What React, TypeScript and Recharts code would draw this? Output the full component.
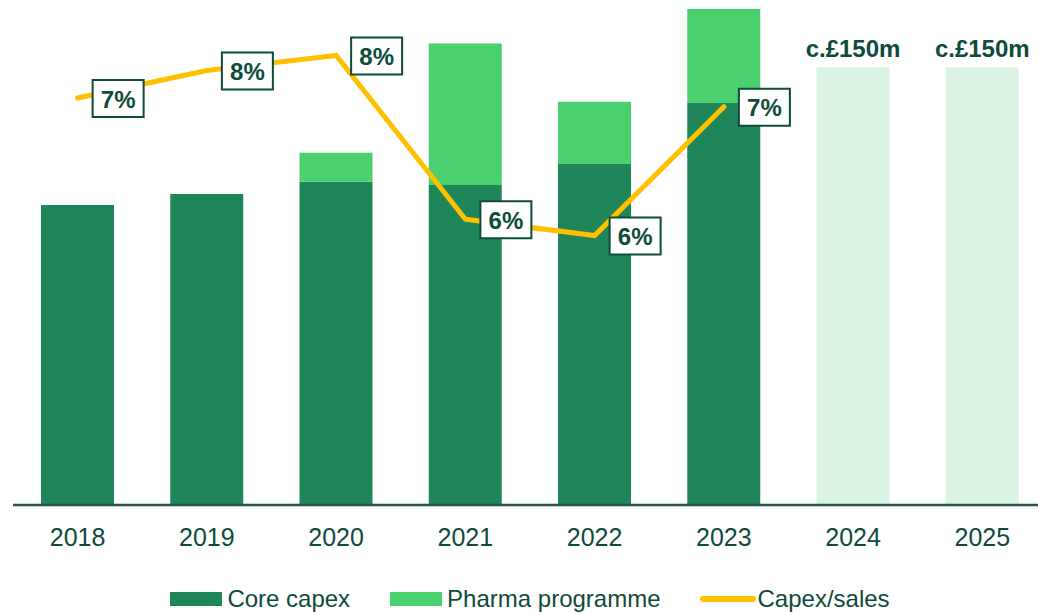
import { ComposedChart, Bar, Line, XAxis, YAxis, Legend, LabelList } from 'recharts'

const years = ['2018', '2019', '2020', '2021', '2022', '2023', '2024', '2025']
const coreCapex = [102.8, 106.6, 110.8, 109.7, 116.9, 137.8, null, null]
const pharmaProgramme = [null, null, 9.9, 48.5, 21.3, 32.2, null, null]
const forecast = [null, null, null, null, null, null, 150, 150]
const capexSales = [7.45, 7.67, 7.79, 6.48, 6.35, 7.38, null, null]

const TEXT = '#0e4b3b'
const CORE = '#1e8659'
const PHARMA = '#4bd06f'
const FORECAST = '#dbf3e2'
const LINE = '#ffc000'

const chartData = years.map((year, i) => ({
  year,
  core: coreCapex[i],
  pharma: pharmaProgramme[i],
  forecast: forecast[i],
  ratio: capexSales[i]
}))

// boxed percentage label to the right of each line point
const RatioLabel = (props: any) => {
  const { x, y, value } = props
  if (value == null) return null
  const bx = x + 15
  const by = y - 18
  return (
    <g>
      <rect x={bx} y={by} width={51} height={37} fill="#fff" stroke={TEXT} strokeWidth={2} />
      <text
        x={bx + 25.5}
        y={by + 19}
        textAnchor="middle"
        dominantBaseline="central"
        fill={TEXT}
        fontSize={24}
        fontWeight="bold"
      >
        {`${Math.round(value)}%`}
      </text>
    </g>
  )
}

const ForecastLabel = (props: any) => {
  const { x, y, width, value } = props
  if (value == null) return null
  return (
    <text x={x + width / 2} y={y - 10} textAnchor="middle" fill={TEXT} fontSize={24} fontWeight="bold">
      {`c.£${value}m`}
    </text>
  )
}

const LegendContent = () => {
  const item = { display: 'flex', alignItems: 'center' } as const
  return (
    <div style={{ height: 30, display: 'flex', justifyContent: 'center', alignItems: 'center', color: TEXT, fontSize: 24 }}>
      <div style={item}>
        <span style={{ width: 52, height: 14, background: CORE, marginRight: 5 }} />
        <span>Core capex</span>
      </div>
      <div style={{ ...item, marginLeft: 40 }}>
        <span style={{ width: 52, height: 14, background: PHARMA, marginRight: 5 }} />
        <span>Pharma programme</span>
      </div>
      <div style={{ ...item, marginLeft: 39 }}>
        <span style={{ width: 56, height: 6, background: LINE, borderRadius: 3, marginRight: 2 }} />
        <span>Capex/sales</span>
      </div>
    </div>
  )
}

export default function App() {
  return (
    <div
      style={{
        position: 'absolute',
        left: 0,
        top: 0,
        width: 1038,
        height: 614,
        overflow: 'hidden',
        background: '#fff',
        fontFamily: 'Arial, "Liberation Sans", sans-serif'
      }}
    >
      <ComposedChart
        width={1060}
        height={614}
        data={chartData}
        margin={{ top: 9, right: 13, left: 13, bottom: 0 }}
      >
        <XAxis
          dataKey="year"
          height={79}
          tickLine={false}
          tickSize={0}
          tickMargin={23}
          axisLine={{ stroke: '#24564a', strokeWidth: 2.5 }}
          tick={{ fill: TEXT, fontSize: 25 }}
          interval={0}
        />
        <YAxis yAxisId="left" domain={[0, 170]} hide />
        <YAxis yAxisId="right" orientation="right" domain={[4.194, 8.162]} hide />
        <Legend verticalAlign="bottom" content={<LegendContent />} />
        <Bar yAxisId="left" dataKey="core" stackId="a" fill={CORE} barSize={73} isAnimationActive={false} />
        <Bar yAxisId="left" dataKey="pharma" stackId="a" fill={PHARMA} barSize={73} isAnimationActive={false} />
        <Bar yAxisId="left" dataKey="forecast" stackId="a" fill={FORECAST} barSize={73} isAnimationActive={false}>
          <LabelList dataKey="forecast" content={<ForecastLabel />} />
        </Bar>
        <Line
          yAxisId="right"
          type="linear"
          dataKey="ratio"
          stroke={LINE}
          strokeWidth={5}
          strokeLinecap="round"
          dot={false}
          activeDot={false}
          isAnimationActive={false}
        >
          <LabelList dataKey="ratio" content={<RatioLabel />} />
        </Line>
      </ComposedChart>
    </div>
  )
}
